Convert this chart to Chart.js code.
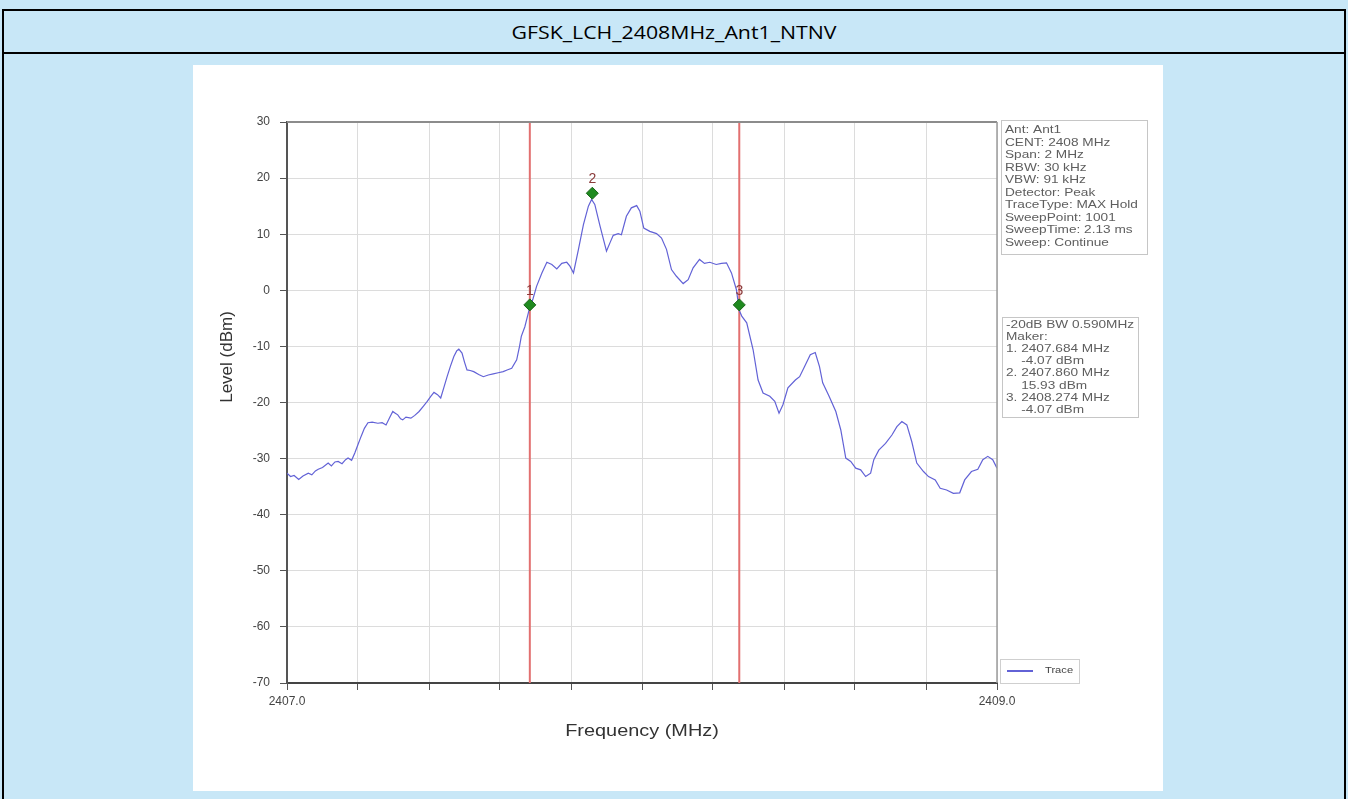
<!DOCTYPE html>
<html>
<head>
<meta charset="utf-8">
<script src="https://cdn.jsdelivr.net/npm/chart.js@4.4.1/dist/chart.umd.min.js"></script>
<style>
html,body{margin:0;padding:0;width:1348px;height:799px;overflow:hidden;background:#c8e7f7;}
#frame{position:absolute;left:2px;top:9px;width:1340px;height:820px;border:2px solid #000;border-bottom:none;}
#title{position:absolute;left:0;top:0;width:1340px;height:41px;border-bottom:2px solid #000;text-align:center;}
#title span{display:inline-block;font-family:'Open Sans',sans-serif;font-size:19px;line-height:43px;color:#000;transform:scaleX(1.12);}
#panel{position:absolute;left:193px;top:65px;width:970px;height:726px;background:#fff;}
canvas{display:block;}
</style>
</head>
<body>
<div id="frame"><div id="title"><span id="tt"></span></div></div>
<div id="panel"><canvas id="c" width="970" height="726"></canvas></div>
<script>
const chartTitle = 'GFSK_LCH_2408MHz_Ant1_NTNV';
const xTitle = 'Frequency (MHz)';
const yTitle = 'Level (dBm)';

const freqs = [
 2407.000,2407.010,2407.020,2407.033,2407.045,2407.060,2407.070,2407.080,2407.088,2407.100,
 2407.116,2407.125,2407.135,2407.144,2407.155,2407.165,2407.172,2407.182,2407.191,2407.200,
 2407.209,2407.218,2407.228,2407.240,2407.256,2407.268,2407.279,2407.290,2407.298,2407.305,
 2407.312,2407.320,2407.326,2407.335,2407.349,2407.360,2407.372,2407.385,2407.395,2407.405,
 2407.414,2407.424,2407.433,2407.442,2407.451,2407.460,2407.470,2407.478,2407.484,2407.493,
 2407.500,2407.507,2407.516,2407.526,2407.540,2407.553,2407.567,2407.581,2407.595,2407.609,
 2407.620,2407.633,2407.647,2407.655,2407.660,2407.670,2407.682,2407.693,2407.703,2407.718,
 2407.732,2407.746,2407.760,2407.774,2407.788,2407.797,2407.807,2407.821,2407.835,2407.849,
 2407.858,2407.867,2407.882,2407.900,2407.910,2407.919,2407.933,2407.942,2407.956,2407.970,
 2407.985,2407.994,2408.005,2408.022,2408.041,2408.055,2408.069,2408.083,2408.097,2408.116,
 2408.130,2408.144,2408.162,2408.176,2408.191,2408.209,2408.224,2408.238,2408.252,2408.266,
 2408.274,2408.281,2408.295,2408.313,2408.327,2408.341,2408.360,2408.374,2408.386,2408.397,
 2408.411,2408.432,2408.444,2408.458,2408.474,2408.488,2408.500,2408.509,2408.527,2408.546,
 2408.560,2408.574,2408.588,2408.602,2408.616,2408.630,2408.644,2408.653,2408.667,2408.686,
 2408.704,2408.718,2408.732,2408.746,2408.760,2408.774,2408.793,2408.807,2408.826,2408.840,
 2408.858,2408.877,2408.895,2408.909,2408.928,2408.946,2408.960,2408.974,2408.988,2409.000
];
const levels = [
 -32.6,-33.2,-33.0,-33.7,-33.1,-32.6,-32.9,-32.2,-31.9,-31.6,
 -30.8,-31.3,-30.6,-30.5,-30.9,-30.2,-29.9,-30.3,-29.0,-27.5,
 -26.0,-24.6,-23.6,-23.5,-23.7,-23.6,-24.0,-22.6,-21.6,-21.9,
 -22.2,-22.9,-23.1,-22.6,-22.8,-22.3,-21.6,-20.6,-19.8,-18.9,
 -18.2,-18.6,-19.2,-17.3,-15.4,-13.6,-11.8,-10.8,-10.5,-11.2,
 -12.8,-14.2,-14.3,-14.5,-15.0,-15.4,-15.1,-14.9,-14.7,-14.5,
 -14.2,-13.9,-12.4,-10.0,-8.2,-6.5,-3.5,-1.5,0.7,3.1,
 5.0,4.6,3.8,4.8,5.0,4.3,3.1,7.3,11.7,15.0,
 16.2,15.3,11.4,7.0,8.5,9.8,10.1,9.9,13.2,14.7,
 15.1,14.1,11.1,10.5,10.1,9.3,7.3,3.7,2.5,1.2,
 1.9,4.0,5.5,4.8,5.0,4.6,4.8,4.9,3.1,0.1,
 -3.6,-4.6,-5.8,-10.6,-16.0,-18.3,-18.9,-19.8,-21.9,-20.4,
 -17.4,-16.0,-15.4,-13.6,-11.5,-11.1,-13.6,-16.5,-18.9,-21.6,
 -24.9,-29.9,-30.5,-31.7,-32.0,-33.2,-32.6,-30.2,-28.5,-27.3,
 -25.8,-24.3,-23.4,-24.0,-27.0,-30.8,-32.3,-33.2,-33.8,-35.3,
 -35.6,-36.2,-36.1,-33.8,-32.3,-31.9,-30.2,-29.6,-30.2,-31.7
];

const markerNames = ['1','2','3'];
const markerFreqs = [2407.684, 2407.860, 2408.274];
const markerLevels = [-2.6, 17.3, -2.6];
const boundFreqs = [2407.684, 2408.274];

const xMin = 2407.0, xMax = 2409.0, xStep = 0.2;
const xLabelValues = [2407.0, 2409.0];
const xTickLabels = ['2407.0', '2409.0'];
const yMin = -70, yMax = 30, yStep = 10;

const infoLines = ['Ant: Ant1','CENT: 2408 MHz','Span: 2 MHz','RBW: 30 kHz','VBW: 91 kHz','Detector: Peak','TraceType: MAX Hold','SweepPoint: 1001','SweepTime: 2.13 ms','Sweep: Continue'];
const markerInfoLines = ['-20dB BW 0.590MHz','Maker:','1. 2407.684 MHz','    -4.07 dBm','2. 2407.860 MHz','    15.93 dBm','3. 2408.274 MHz','    -4.07 dBm'];
const legendLabel = 'Trace';

document.getElementById('tt').textContent = chartTitle;

const FONT = '"Liberation Sans", Arial, sans-serif';
const traceColor = '#6262d6';

function drawBox(ctx, x0, y0, x1, y1, lines, ty0, dy, size, sx) {
  ctx.fillStyle = '#fff';
  ctx.fillRect(x0, y0, x1 - x0, y1 - y0);
  ctx.strokeStyle = '#c6c6c6';
  ctx.lineWidth = 1;
  ctx.strokeRect(x0 + 0.5, y0 + 0.5, x1 - x0, y1 - y0);
  ctx.fillStyle = '#5e5e5e';
  ctx.font = size + 'px ' + FONT;
  ctx.textAlign = 'left';
  ctx.textBaseline = 'middle';
  lines.forEach((t, i) => {
    ctx.save();
    ctx.translate(x0 + 4, ty0 + i * dy);
    ctx.scale(sx, 1);
    ctx.fillText(t, 0, 0);
    ctx.restore();
  });
}

const decor = {
  id: 'decor',
  afterDraw(chart) {
    const {ctx, chartArea: a, scales: {x, y}} = chart;
    ctx.save();
    ctx.strokeStyle = '#8c8c8c'; ctx.lineWidth = 2;
    ctx.beginPath(); ctx.moveTo(a.left, a.top); ctx.lineTo(a.right, a.top); ctx.stroke();
    ctx.strokeStyle = '#9c9c9c'; ctx.lineWidth = 1.5;
    ctx.beginPath(); ctx.moveTo(a.right, a.top); ctx.lineTo(a.right, a.bottom); ctx.stroke();
    ctx.font = '14px ' + FONT;
    ctx.textAlign = 'center'; ctx.textBaseline = 'middle';
    ctx.fillStyle = '#8a3a3a';
    markerFreqs.forEach((f, i) => {
      ctx.fillText(markerNames[i], x.getPixelForValue(f), y.getPixelForValue(markerLevels[i]) - 14);
    });
    ctx.fillStyle = '#333';
    ctx.font = '17px ' + FONT;
    ctx.save();
    ctx.translate((a.left + a.right) / 2, 666);
    ctx.scale(1.17, 1);
    ctx.fillText(xTitle, 0, 0);
    ctx.restore();
    ctx.save();
    ctx.translate(34, 292);
    ctx.rotate(-Math.PI / 2);
    ctx.fillText(yTitle, 0, 0);
    ctx.restore();
    drawBox(ctx, a.right + 4, 55, a.right + 150, 189, infoLines, 65, 12.55, 11, 1.24);
    drawBox(ctx, a.right + 5, 252, a.right + 141, 352, markerInfoLines, 260, 12.1, 11, 1.24);
    const lx0 = a.right + 3, ly0 = 594, lx1 = a.right + 82, ly1 = 618;
    ctx.fillStyle = '#fff'; ctx.fillRect(lx0, ly0, lx1 - lx0, ly1 - ly0);
    ctx.strokeStyle = '#cfcfcf'; ctx.lineWidth = 1;
    ctx.strokeRect(lx0 + 0.5, ly0 + 0.5, lx1 - lx0, ly1 - ly0);
    ctx.strokeStyle = traceColor; ctx.lineWidth = 2;
    ctx.beginPath(); ctx.moveTo(lx0 + 7, 606); ctx.lineTo(lx0 + 33, 606); ctx.stroke();
    ctx.fillStyle = '#444'; ctx.font = '9px ' + FONT; ctx.textAlign = 'left';
    ctx.save(); ctx.translate(lx0 + 45, 606); ctx.scale(1.24, 1); ctx.fillText(legendLabel, 0, 0); ctx.restore();
    ctx.restore();
  }
};

new Chart(document.getElementById('c'), {
  type: 'scatter',
  data: {
    datasets: [
      {
        label: 'Markers',
        data: markerFreqs.map((f, i) => ({x: f, y: markerLevels[i]})),
        pointStyle: 'rectRot', pointRadius: 6,
        backgroundColor: '#1f8a1f', borderColor: '#166416', borderWidth: 1,
        showLine: false, order: 0
      },
      {
        label: legendLabel,
        data: freqs.map((f, i) => ({x: f, y: levels[i]})),
        showLine: true, borderColor: traceColor, borderWidth: 1.2,
        pointRadius: 0, tension: 0, order: 1
      },
      ...boundFreqs.map(f => ({
        label: 'bound',
        data: [{x: f, y: yMin}, {x: f, y: yMax}],
        showLine: true, borderColor: '#e27070', borderWidth: 2,
        pointRadius: 0, order: 2
      }))
    ]
  },
  options: {
    responsive: false,
    animation: false,
    events: [],
    layout: {padding: {top: 57, right: 166, left: 0, bottom: 0}},
    plugins: {legend: {display: false}, tooltip: {enabled: false}},
    scales: {
      x: {
        type: 'linear', min: xMin, max: xMax,
        afterFit(s) { s.height = 108; },
        ticks: {
          stepSize: xStep, autoSkip: false, maxRotation: 0, padding: 4,
          color: '#444', font: {size: 12, family: FONT},
          callback(v) {
            const i = xLabelValues.findIndex(t => Math.abs(t - v) < 1e-6);
            return i >= 0 ? xTickLabels[i] : '';
          }
        },
        grid: {color: '#dcdcdc', tickColor: '#555', tickLength: 7, lineWidth: 1},
        border: {color: '#444', width: 2}
      },
      y: {
        min: yMin, max: yMax,
        afterFit(s) { s.width = 94; },
        ticks: {stepSize: yStep, padding: 10, color: '#444', font: {size: 12, family: FONT}},
        grid: {color: '#dcdcdc', tickColor: '#555', tickLength: 7, lineWidth: 1},
        border: {color: '#555', width: 2}
      }
    }
  },
  plugins: [decor]
});
</script>
</body>
</html>
